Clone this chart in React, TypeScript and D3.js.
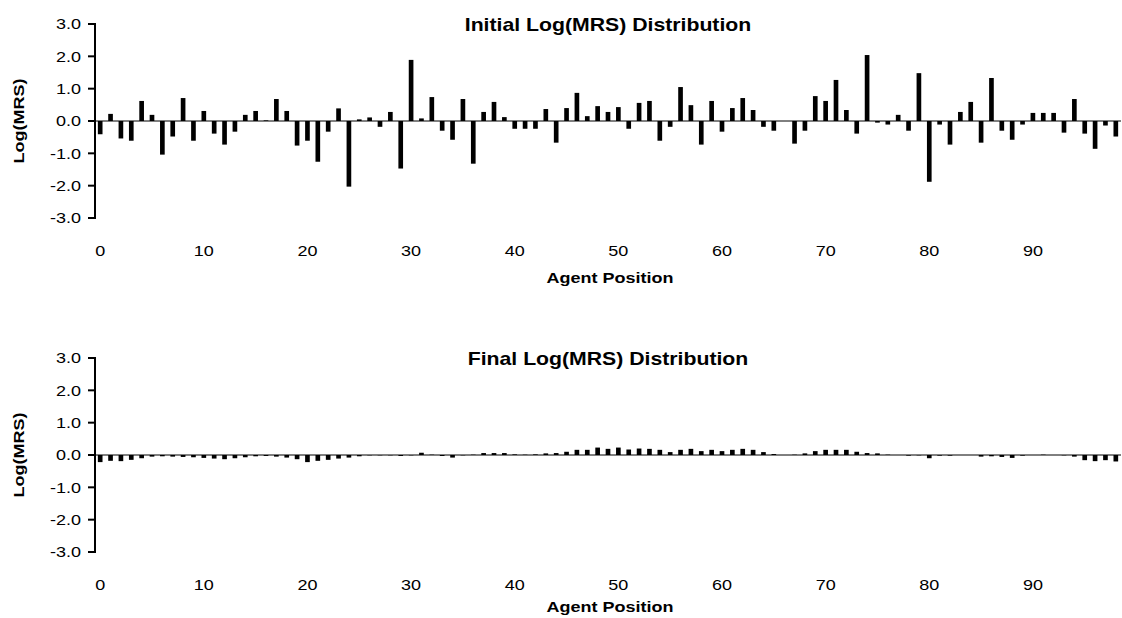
import React from "react";
import * as d3 from "d3";

// Log(MRS) per agent, positions 0..98
const initialValues: number[] = [
  -0.41, 0.22, -0.54, -0.61, 0.62, 0.19, -1.04, -0.48, 0.71, -0.61,
  0.31, -0.39, -0.73, -0.33, 0.19, 0.31, 0.02, 0.68, 0.31, -0.76,
  -0.61, -1.26, -0.33, 0.39, -2.03, 0.05, 0.11, -0.18, 0.28, -1.47,
  1.89, 0.08, 0.74, -0.3, -0.58, 0.68, -1.32, 0.28, 0.59, 0.12,
  -0.24, -0.24, -0.24, 0.37, -0.67, 0.4, 0.87, 0.15, 0.46, 0.28,
  0.43, -0.24, 0.56, 0.62, -0.61, -0.18, 1.05, 0.49, -0.73, 0.62,
  -0.33, 0.4, 0.71, 0.34, -0.18, -0.3, 0.0, -0.7, -0.3, 0.77,
  0.62, 1.27, 0.34, -0.39, 2.04, -0.05, -0.11, 0.19, -0.3, 1.48,
  -1.88, -0.11, -0.73, 0.28, 0.59, -0.67, 1.33, -0.3, -0.58, -0.11,
  0.25, 0.25, 0.25, -0.36, 0.68, -0.39, -0.86, -0.14, -0.48,
];

const finalValues: number[] = [
  -0.22, -0.18, -0.19, -0.15, -0.1, -0.05, -0.04, -0.05, -0.06, -0.07,
  -0.09, -0.11, -0.13, -0.1, -0.07, -0.04, -0.03, -0.05, -0.08, -0.13,
  -0.22, -0.18, -0.15, -0.11, -0.08, -0.04, -0.01, -0.01, -0.01, -0.03,
  -0.01, 0.07, 0.01, -0.03, -0.08, -0.01, 0.01, 0.06, 0.06, 0.06,
  0.02, 0.01, 0.02, 0.05, 0.06, 0.1, 0.16, 0.16, 0.23, 0.19,
  0.23, 0.17, 0.2, 0.19, 0.16, 0.09, 0.16, 0.19, 0.12, 0.16,
  0.12, 0.16, 0.19, 0.16, 0.09, 0.03, 0.0, 0.01, 0.05, 0.12,
  0.16, 0.16, 0.16, 0.1, 0.06, 0.05, 0.01, 0.0, -0.02, -0.01,
  -0.1, -0.02, -0.02, 0.0, 0.0, -0.05, -0.04, -0.06, -0.09, -0.02,
  0.0, 0.01, 0.0, -0.01, -0.05, -0.16, -0.19, -0.16, -0.2,
];

const yTickValues: number[] = [-3, -2, -1, 0, 1, 2, 3];
const xTickValues: number[] = [0, 10, 20, 30, 40, 50, 60, 70, 80, 90];
const yDomain: [number, number] = [-3, 3];

const WIDTH = 1122;
const HEIGHT = 618;
const PLOT_LEFT = 95;
const PLOT_RIGHT = 1121;
const FONT = "'Liberation Sans', Arial, Helvetica, sans-serif";
const STRETCH = 1.2;

type TextProps = {
  x: number;
  y: number;
  size: number;
  bold?: boolean;
  anchor?: "start" | "middle" | "end";
  rotate?: number;
  sx?: number;
  children: React.ReactNode;
};

function WideText({ x, y, size, bold, anchor = "middle", rotate = 0, sx = STRETCH, children }: TextProps) {
  return (
    <text
      transform={`translate(${x},${y}) rotate(${rotate}) scale(${sx},1)`}
      fontFamily={FONT}
      fontSize={size}
      fontWeight={bold ? "bold" : "normal"}
      textAnchor={anchor}
      fill="#000"
    >
      {children}
    </text>
  );
}

type PanelProps = { title: string; values: number[]; top: number; axisTitleY: number };

function Panel({ title, values, top, axisTitleY }: PanelProps) {
  const x = d3
    .scaleBand<number>()
    .domain(d3.range(values.length))
    .range([PLOT_LEFT, PLOT_RIGHT])
    .paddingInner(0.55)
    .paddingOuter(0.275);
  const y = d3.scaleLinear().domain(yDomain).range([top + 218, top + 24]);
  const y0 = y(0);
  const bw = x.bandwidth();

  return (
    <g>
      <WideText x={(PLOT_LEFT + PLOT_RIGHT) / 2} y={top + 31} size={18} bold sx={1.18}>
        {title}
      </WideText>

      {/* zero baseline */}
      <line x1={PLOT_LEFT} x2={PLOT_RIGHT} y1={y0} y2={y0} stroke="#000" strokeWidth={1} />

      {values.map((v, i) => (
        <rect
          key={i}
          x={x(i)!}
          width={bw}
          y={Math.min(y(v), y0)}
          height={Math.abs(y(v) - y0)}
          fill="#000"
        />
      ))}

      {/* value axis */}
      <line x1={PLOT_LEFT} x2={PLOT_LEFT} y1={y(yDomain[1]) - 1} y2={y(yDomain[0]) + 1} stroke="#000" strokeWidth={2} />
      {yTickValues.map((t) => (
        <g key={t}>
          <line x1={PLOT_LEFT - 7} x2={PLOT_LEFT} y1={y(t)} y2={y(t)} stroke="#000" strokeWidth={2} />
          <WideText x={81} y={y(t) + 5.3} size={15} anchor="end">
            {t.toFixed(1)}
          </WideText>
        </g>
      ))}
      <WideText x={23.5} y={y0} size={15} bold rotate={-90}>
        Log(MRS)
      </WideText>

      {/* position labels */}
      {xTickValues.map((t) => (
        <WideText key={t} x={x(t)! + bw / 2} y={top + 256} size={15}>
          {t}
        </WideText>
      ))}
      <WideText x={610} y={axisTitleY} size={15} bold>
        Agent Position
      </WideText>
    </g>
  );
}

export default function App() {
  return (
    <svg
      width={WIDTH}
      height={HEIGHT}
      style={{ position: "absolute", left: 0, top: 0, display: "block", background: "#fff" }}
    >
      <rect width={WIDTH} height={HEIGHT} fill="#fff" />
      <Panel title="Initial Log(MRS) Distribution" values={initialValues} top={0} axisTitleY={283} />
      <Panel title="Final Log(MRS) Distribution" values={finalValues} top={334} axisTitleY={612} />
    </svg>
  );
}
